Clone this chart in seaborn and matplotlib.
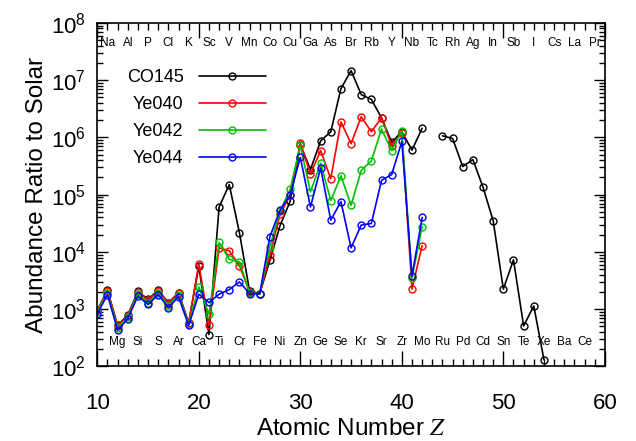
import matplotlib
matplotlib.use("Agg")
import matplotlib.pyplot as plt
import matplotlib.transforms as mtransforms
from matplotlib.ticker import MultipleLocator, LogLocator, NullFormatter
import pandas as pd
import seaborn as sns

# Atomic numbers covered by each model
z_ye = list(range(10, 43))
z_co = list(range(10, 43)) + list(range(44, 55))

# Abundance ratios to solar
co145 = [950, 2150, 520, 790, 2050, 1490, 2150, 1290, 1950, 580,
         5600, 360, 61000, 150000, 21700, 2080, 1880, 7100, 28700, 77000,
         750000, 275000, 870000, 1.26e6, 7.1e6, 1.47e7, 5.6e6, 4.6e6, 2.2e6, 820000,
         1.26e6, 600000, 1.45e6,
         1.07e6, 960000, 310000, 410000, 135000, 35000, 2250, 7300, 510, 1140, 132]
ye040 = [950, 2100, 500, 770, 1980, 1450, 2080, 1250, 1900, 570,
         6200, 530, 11800, 10500, 5800, 2000, 1880, 8700, 45500, 98000,
         790000, 230000, 590000, 190000, 1.87e6, 780000, 2.3e6, 1.26e6, 2.2e6, 720000,
         1.2e6, 2250, 12900]
ye042 = [900, 1950, 470, 730, 1850, 1300, 1950, 1150, 1780, 550,
         2450, 820, 14700, 7400, 6700, 1950, 1850, 12400, 52000, 124000,
         725000, 112000, 355000, 79000, 215000, 65000, 265000, 390000, 1.4e6, 590000,
         1.3e6, 3500, 27600]
ye044 = [830, 1800, 430, 680, 1700, 1210, 1800, 1070, 1650, 520,
         1830, 1310, 1830, 2200, 3000, 1880, 1850, 18500, 53500, 100000,
         450000, 61000, 293000, 36000, 76000, 11800, 29500, 31500, 178000, 225000,
         850000, 3800, 40000]

series_names = ["CO145", "Ye040", "Ye042", "Ye044"]
series_colors = ["black", "#ff0000", "#00c000", "#0000ff"]

# Element symbols: odd Z along the top, even Z along the bottom
top_z = list(range(11, 60, 2))
top_symbols = ["Na", "Al", "P", "Cl", "K", "Sc", "V", "Mn", "Co", "Cu", "Ga", "As", "Br",
               "Rb", "Y", "Nb", "Tc", "Rh", "Ag", "In", "Sb", "I", "Cs", "La", "Pr"]
bottom_z = list(range(12, 59, 2))
bottom_symbols = ["Mg", "Si", "S", "Ar", "Ca", "Ti", "Cr", "Fe", "Ni", "Zn", "Ge", "Se",
                  "Kr", "Sr", "Zr", "Mo", "Ru", "Pd", "Cd", "Sn", "Te", "Xe", "Ba", "Ce"]

sns.set_style("ticks")
plt.rcParams["font.family"] = ["Liberation Sans", "DejaVu Sans"]
plt.rcParams["mathtext.fontset"] = "stix"
plt.rcParams["mathtext.default"] = "regular"
for key in ["text.color", "axes.labelcolor", "xtick.color", "ytick.color", "axes.edgecolor"]:
    plt.rcParams[key] = "black"

fig = plt.figure(figsize=(6.36, 4.41), dpi=100)
ax = fig.add_axes([0.153, 0.169, 0.951 - 0.153, 0.948 - 0.169])

line_style = dict(marker="o", markersize=5, markerfacecolor="none", markeredgewidth=1.0,
                  linewidth=1.2, estimator=None, sort=False)

# CO145 has no value at Z = 43, so it is drawn in two runs
co_df = pd.DataFrame({"Z": z_co, "ratio": co145})
first = co_df[co_df["Z"] <= 42]
second = co_df[co_df["Z"] >= 44]
sns.lineplot(data=first, x="Z", y="ratio", ax=ax, color="black",
             markeredgecolor="black", label="CO145", **line_style)
sns.lineplot(data=second, x="Z", y="ratio", ax=ax, color="black",
             markeredgecolor="black", label="_nolegend_", **line_style)

for name, vals, col in zip(series_names[1:], [ye040, ye042, ye044], series_colors[1:]):
    df = pd.DataFrame({"Z": z_ye, "ratio": vals})
    sns.lineplot(data=df, x="Z", y="ratio", ax=ax, color=col,
                 markeredgecolor=col, label=name, **line_style)

ax.set_yscale("log")
ax.set_xlim(10, 60)
ax.set_ylim(1e2, 1e8)

ax.xaxis.set_major_locator(MultipleLocator(10))
ax.xaxis.set_minor_locator(MultipleLocator(1))
ax.yaxis.set_major_locator(LogLocator(base=10, numticks=10))
ax.yaxis.set_minor_locator(LogLocator(base=10, subs=range(2, 10), numticks=20))
ax.yaxis.set_minor_formatter(NullFormatter())

ax.tick_params(which="both", direction="in", top=True, right=True, width=1.0,
               labelsize=16, colors="black")
ax.tick_params(axis="x", which="major", length=11, pad=19)
ax.tick_params(axis="x", which="minor", length=5)
ax.tick_params(axis="y", which="major", length=8, pad=8)
ax.tick_params(axis="y", which="minor", length=4)

for sp in ax.spines.values():
    sp.set_linewidth(1.2)
    sp.set_color("black")

ax.set_xlabel(r"Atomic Number $\mathit{Z}$", fontsize=17.5, labelpad=3)
ax.set_ylabel("Abundance Ratio to Solar", fontsize=17.5, labelpad=2)

# Element symbols inside the frame
trans = mtransforms.blended_transform_factory(ax.transData, ax.transAxes)
for z, s in zip(top_z, top_symbols):
    ax.text(z, 0.942, s, transform=trans, ha="center", va="center", fontsize=8.5)
for z, s in zip(bottom_z, bottom_symbols):
    ax.text(z, 0.071, s, transform=trans, ha="center", va="center", fontsize=8.5)

leg = ax.legend(loc="upper left", bbox_to_anchor=(0.058, 0.865), frameon=False,
                markerfirst=False, fontsize=13, handlelength=3.7, handletextpad=0.85,
                labelspacing=0.55, borderaxespad=0, borderpad=0)

fig.savefig("out.png", dpi=100)
